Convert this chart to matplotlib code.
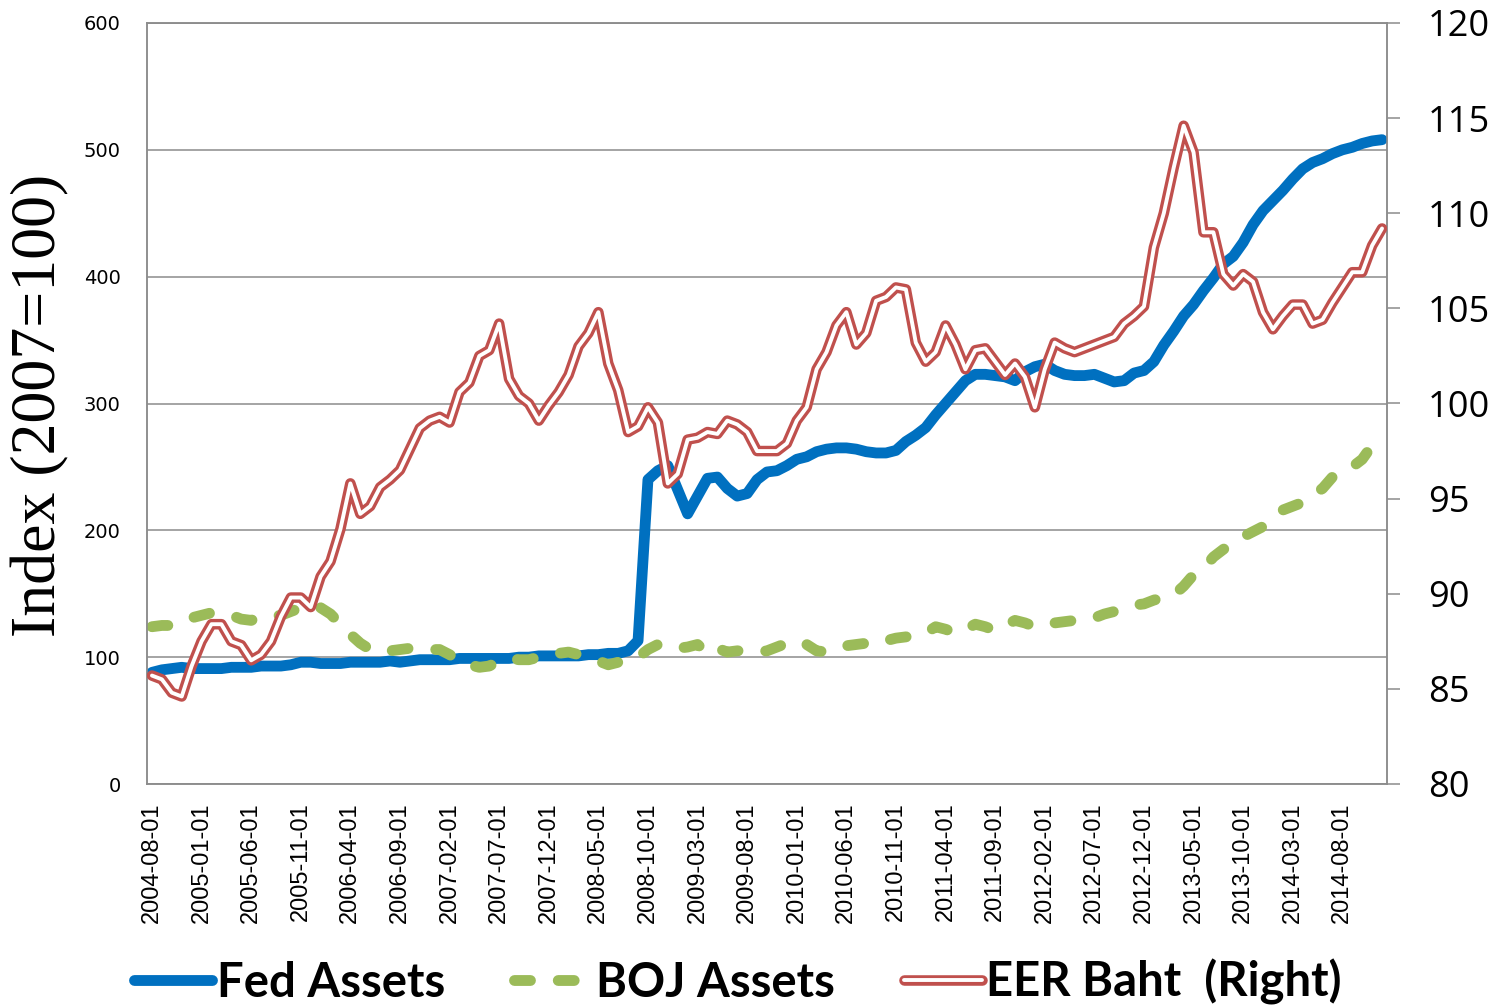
import matplotlib
matplotlib.use("Agg")
import matplotlib.pyplot as plt
from matplotlib.lines import Line2D
from matplotlib.legend_handler import HandlerTuple
from matplotlib.font_manager import FontProperties
import pandas as pd
import numpy as np

plt.rcParams['lines.scale_dashes'] = False

# ---------------- data ----------------
start_month = "2004-08-01"
n_months = 125
months = pd.date_range(start_month, periods=n_months, freq="MS").strftime("%Y-%m-%d").tolist()
tick_step = 5

fed_assets = [
    88, 90, 91, 92, 91, 91, 91, 91, 92, 92,
    92, 93, 93, 93, 94, 96, 96, 95, 95, 95,
    96, 96, 96, 96, 97, 96, 97, 98, 98, 98,
    98, 99, 99, 99, 99, 99, 99, 100, 100, 101,
    101, 101, 101, 101, 102, 102, 103, 103, 105, 113,
    240, 247, 251, 232, 213, 227, 241, 242, 233, 227,
    229, 240, 246, 247, 251, 256, 258, 262, 264, 265,
    265, 264, 262, 261, 261, 263, 270, 275, 281, 291,
    300, 309, 318, 323, 323, 322, 321, 318, 325, 329,
    331, 326, 323, 322, 322, 323, 320, 317, 318, 324,
    326, 333, 346, 357, 369, 378, 389, 399, 410, 416,
    427, 441, 452, 460, 468, 477, 485, 490, 493, 497,
    500, 502, 505, 507, 508,
]

boj_assets = [
    124, 125, 125, 127, 131, 133, 135, 135, 133, 130,
    129, 132, 132, 133, 136, 139, 141, 139, 134, 126,
    118, 111, 106, 104, 105, 106, 107, 106, 106, 106,
    102, 97, 94, 92, 93, 97, 99, 98, 98, 100,
    102, 103, 104, 102, 99, 97, 94, 96, 98, 100,
    106, 110, 110, 107, 108, 110, 103, 107, 104, 105,
    105, 104, 105, 108, 111, 113, 110, 105, 104, 107,
    109, 110, 111, 110, 113, 115, 116, 117, 119, 124,
    122, 119, 122, 126, 124, 121, 125, 129, 127, 124,
    126, 127, 128, 129, 129, 131, 134, 136, 139, 141,
    142, 145, 147, 149, 156, 165, 170, 179, 185, 190,
    195, 199, 203, 209, 216, 219, 222, 228, 233, 242,
    247, 250, 256, 267, 271,
]

eer_baht = [
    85.7, 85.5, 84.8, 84.6, 86.2, 87.5, 88.4, 88.4, 87.5, 87.3,
    86.5, 86.8, 87.5, 88.8, 89.8, 89.8, 89.3, 90.9, 91.7, 93.4,
    95.8, 94.2, 94.6, 95.6, 96.0, 96.5, 97.6, 98.7, 99.1, 99.3,
    99.0, 100.6, 101.1, 102.5, 102.8, 104.2, 101.3, 100.4, 100.0, 99.1,
    99.9, 100.6, 101.5, 103.0, 103.7, 104.8, 102.1, 100.7, 98.5, 98.8,
    99.8, 99.0, 95.8, 96.3, 98.1, 98.2, 98.5, 98.4, 99.1, 98.9,
    98.5, 97.5, 97.5, 97.5, 97.9, 99.1, 99.8, 101.8, 102.7, 104.1,
    104.8, 103.1, 103.7, 105.4, 105.6, 106.1, 106.0, 103.2, 102.2, 102.7,
    104.1, 103.1, 101.8, 102.8, 102.9, 102.2, 101.5, 102.1, 101.4, 99.8,
    101.8, 103.2, 102.9, 102.7, 102.9, 103.1, 103.3, 103.5, 104.2, 104.6,
    105.1, 108.2, 110.0, 112.4, 114.6, 113.2, 109.0, 109.0, 106.8, 106.2,
    106.8, 106.4, 104.8, 103.9, 104.6, 105.2, 105.2, 104.2, 104.4, 105.3,
    106.1, 106.9, 106.9, 108.3, 109.2,
]

series_labels = ["Fed Assets", "BOJ Assets", "EER Baht  (Right)"]
y_label = "Index (2007=100)"
left_ticks = [0, 100, 200, 300, 400, 500, 600]
right_ticks = [80, 85, 90, 95, 100, 105, 110, 115, 120]

# ---------------- style ----------------
BLUE = "#0070C0"
GREEN = "#9BBB59"
RED = "#C0504D"
GRID = "#8C8C8C"

fig = plt.figure(figsize=(14.99, 10.08), dpi=100)
ax = fig.add_axes([147 / 1499, 1 - 784 / 1008, 1240 / 1499, 761 / 1008])
ax2 = ax.twinx()

x = np.arange(len(months))

ax.plot(x, fed_assets, color=BLUE, lw=7.8, solid_capstyle="round",
        solid_joinstyle="round", zorder=3)
ax.plot(x, boj_assets, color=GREEN, lw=7.8, dashes=(11.5, 20),
        dash_capstyle="round", dash_joinstyle="round", zorder=4)
ax2.plot(x, eer_baht, color=RED, lw=7.6, solid_capstyle="round",
         solid_joinstyle="round", zorder=3)
ax2.plot(x, eer_baht, color="white", lw=2.8, solid_capstyle="round",
         solid_joinstyle="round", zorder=4)

ax.set_xlim(-0.5, len(months) - 0.5)
ax.set_ylim(0, 600)
ax2.set_ylim(80, 120)

ax.set_yticks(left_ticks, labels=[str(v) for v in left_ticks],
              fontfamily="DejaVu Sans", fontsize=14)
ax2.set_yticks(right_ticks, labels=[str(v) for v in right_ticks],
               fontfamily="Open Sans", fontsize=26)
ax.set_xticks(x[::tick_step], labels=months[::tick_step], rotation=90,
              fontfamily="Liberation Sans", fontsize=17)

ax.yaxis.grid(True, color=GRID, lw=1.1)
ax.set_axisbelow(True)

for a in (ax, ax2):
    for s in a.spines.values():
        s.set_color(GRID)
        s.set_linewidth(1.1)

ax.tick_params(axis="x", length=0, pad=13)
ax.tick_params(axis="y", length=0, pad=19)
ax2.tick_params(axis="y", length=9.4, width=1.1, color=GRID, pad=20)

fig.text(40 / 1499, 1 - 405 / 1008, y_label, rotation=90, ha="center",
         va="center", fontfamily="Liberation Serif", fontsize=46)

# legend
h_fed = Line2D([], [], color=BLUE, lw=7.8, solid_capstyle="round")
h_boj = Line2D([], [], color=GREEN, lw=7.8, dashes=(11.5, 20),
               dash_capstyle="round")
h_eer_o = Line2D([], [], color=RED, lw=7.6, solid_capstyle="round")
h_eer_i = Line2D([], [], color="white", lw=2.8, solid_capstyle="round")
fig.legend([h_fed, h_boj, (h_eer_o, h_eer_i)], series_labels,
           handler_map={tuple: HandlerTuple(ndivide=1, pad=0)},
           loc="center", bbox_to_anchor=(738 / 1499, 1 - 982 / 1008),
           ncol=3, frameon=False,
           prop=FontProperties(family="Lato", weight="bold", size=34),
           handlelength=1.65, handletextpad=0.1, columnspacing=1.45,
           borderaxespad=0, borderpad=0)

fig.savefig("out.png", dpi=100)
